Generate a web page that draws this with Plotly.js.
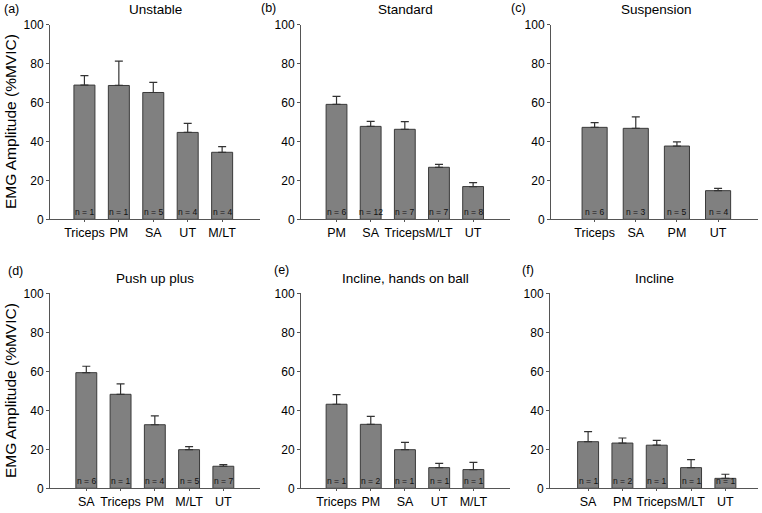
<!DOCTYPE html>
<html>
<head>
<meta charset="utf-8">
<script src="https://cdn.plot.ly/plotly-3.0.1.min.js"></script>
<style>html,body{margin:0;padding:0;background:#fff;}#chart{width:762px;height:513px;}</style>
</head>
<body>
<div id="chart"></div>
<script>
// ---- data ----
const panelTitles = ["Unstable", "Standard", "Suspension", "Push up plus", "Incline, hands on ball", "Incline"];
const panelLetters = ["(a)", "(b)", "(c)", "(d)", "(e)", "(f)"];

const catsA = ["Triceps", "PM", "SA", "UT", "M/LT"];
const valsA = [68.9, 68.7, 65.1, 44.6, 34.4];
const errA  = [4.9, 12.5, 5.2, 4.6, 2.9];
const nA    = [1, 1, 5, 4, 4];

const catsB = ["PM", "SA", "Triceps", "M/LT", "UT"];
const valsB = [59.0, 47.7, 46.2, 26.7, 16.8];
const errB  = [4.1, 2.6, 3.9, 1.5, 2.0];
const nB    = [6, 12, 7, 7, 8];

const catsC = ["Triceps", "SA", "PM", "UT"];
const valsC = [47.2, 46.7, 37.6, 14.7];
const errC  = [2.4, 5.9, 2.1, 1.2];
const nC    = [6, 3, 5, 4];

const catsD = ["SA", "Triceps", "PM", "M/LT", "UT"];
const valsD = [59.3, 48.2, 32.6, 19.8, 11.3];
const errD  = [3.3, 5.3, 4.5, 1.6, 0.8];
const nD    = [6, 1, 4, 5, 7];

const catsE = ["Triceps", "PM", "SA", "UT", "M/LT"];
const valsE = [43.1, 32.8, 19.8, 10.6, 9.6];
const errE  = [4.9, 4.1, 3.8, 2.2, 3.7];
const nE    = [1, 2, 1, 1, 1];

const catsF = ["SA", "PM", "Triceps", "M/LT", "UT"];
const valsF = [23.9, 23.2, 22.1, 10.6, 5.1];
const errF  = [5.2, 2.6, 2.5, 4.1, 2.1];
const nF    = [1, 2, 1, 1, 1];

const yTickVals = [0, 20, 40, 60, 80, 100];
const yTitle = "EMG Amplitude (%MVIC)";

// ---- layout helpers ----
const W = 762, H = 513;
const px = v => v / W;
const py = v => 1 - v / H;
const FONT = '"Liberation Sans", Arial, sans-serif';

const panels = [
  {cats: catsA, vals: valsA, err: errA, n: nA, xd: [50, 260], yd: [24.5, 219.3], xr: [-1.0, 5.1],  title: [155, 9.5],   letter: [11, 9]},
  {cats: catsB, vals: valsB, err: errB, n: nB, xd: [301, 510], yd: [24.5, 219.3], xr: [-1.04, 5.08], title: [405, 9.5],  letter: [268, 8]},
  {cats: catsC, vals: valsC, err: errC, n: nC, xd: [551, 758], yd: [24.5, 219.3], xr: [-1.06, 3.97], title: [656, 9.5],  letter: [518, 8]},
  {cats: catsD, vals: valsD, err: errD, n: nD, xd: [50, 260], yd: [293.3, 488.3], xr: [-1.06, 5.07], title: [155, 278.7], letter: [15, 271]},
  {cats: catsE, vals: valsE, err: errE, n: nE, xd: [301, 510], yd: [293.3, 488.3], xr: [-1.04, 5.07], title: [405, 278.7], letter: [281, 270]},
  {cats: catsF, vals: valsF, err: errF, n: nF, xd: [550, 758], yd: [293.3, 488.3], xr: [-1.11, 4.95], title: [654, 278.7], letter: [528, 270]}
];

const traces = [];
const annotations = [];
const layout = {
  width: W, height: H,
  margin: {l: 0, r: 0, t: 0, b: 0},
  paper_bgcolor: '#fff', plot_bgcolor: '#fff',
  showlegend: false,
  font: {family: FONT, color: '#000'},
  annotations: annotations
};

panels.forEach((p, i) => {
  const k = i === 0 ? '' : String(i + 1);
  const xa = 'x' + k, ya = 'y' + k;
  traces.push({
    type: 'bar', x: p.cats, y: p.vals, xaxis: xa, yaxis: ya,
    width: 0.61,
    marker: {color: '#808080', line: {color: '#3a3a3a', width: 1}},
    error_y: {type: 'data', symmetric: false, array: p.err, arrayminus: p.vals.map(() => 0),
              color: '#333', thickness: 1.2, width: 4},
    hoverinfo: 'skip'
  });
  layout['xaxis' + k] = {
    domain: [px(p.xd[0]), px(p.xd[1])], anchor: ya,
    type: 'category', range: p.xr, tickangle: 0, automargin: false,
    showline: true, linecolor: '#555', linewidth: 1,
    ticks: 'outside', ticklen: 2, tickcolor: '#555',
    showgrid: false, zeroline: false, fixedrange: true,
    tickfont: {size: 12.5, family: FONT, color: '#000'}
  };
  layout['yaxis' + k] = {
    domain: [py(p.yd[1]), py(p.yd[0])], anchor: xa,
    range: [0, 100], tickvals: yTickVals, automargin: false,
    showline: true, linecolor: '#555', linewidth: 1,
    ticks: 'outside', ticklen: 3, tickcolor: '#555',
    showgrid: false, zeroline: false, fixedrange: true,
    tickfont: {size: 12, family: FONT, color: '#000'}
  };
  p.cats.forEach((c, j) => {
    annotations.push({
      xref: xa, yref: ya, x: c, y: 0, yanchor: 'bottom', xanchor: 'center',
      text: 'n = ' + p.n[j], showarrow: false, yshift: 0,
      font: {size: 8.5, family: FONT, color: '#111'}
    });
  });
  annotations.push({
    xref: 'paper', yref: 'paper', x: px(p.title[0]), y: py(p.title[1]),
    xanchor: 'center', yanchor: 'middle', text: panelTitles[i], showarrow: false,
    font: {size: 13.5, family: FONT, color: '#000'}
  });
  annotations.push({
    xref: 'paper', yref: 'paper', x: px(p.letter[0]), y: py(p.letter[1]),
    xanchor: 'center', yanchor: 'middle', text: panelLetters[i], showarrow: false,
    font: {size: 12.5, family: FONT, color: '#000'}
  });
});

// shared y-axis titles for rows
[122, 391].forEach(cy => {
  annotations.push({
    xref: 'paper', yref: 'paper', x: px(10), y: py(cy),
    xanchor: 'center', yanchor: 'middle', textangle: -90,
    text: yTitle, showarrow: false,
    font: {size: 15.5, family: FONT, color: '#000'}
  });
});

Plotly.newPlot('chart', traces, layout, {displayModeBar: false, staticPlot: true});
</script>
</body>
</html>
